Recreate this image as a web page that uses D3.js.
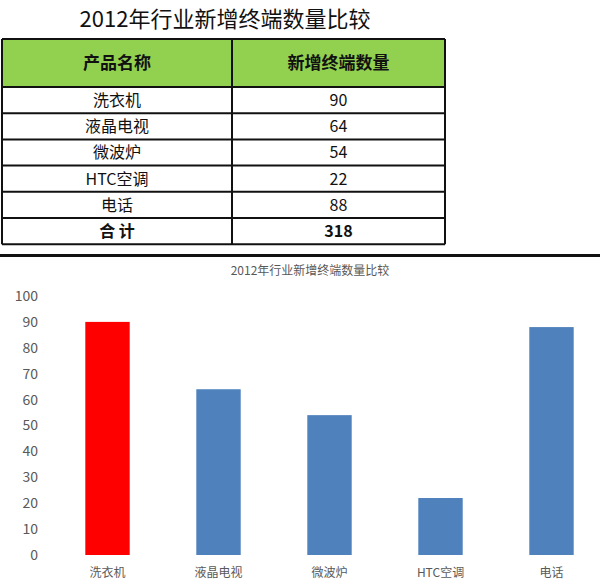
<!DOCTYPE html>
<html>
<head>
<meta charset="utf-8">
<script src="https://cdn.jsdelivr.net/npm/d3@7"></script>
<style>
  body { margin: 0; background: #fff; font-family: "Noto Sans CJK SC", "Noto Sans", sans-serif; }
</style>
</head>
<body>
<svg id="chart" width="600" height="585"></svg>
<script>
// data
let title = '2012年行业新增终端数量比较';
let headers = ['产品名称', '新增终端数量'];
let products = ['洗衣机', '液晶电视', '微波炉', 'HTC空调', '电话'];
let counts = [90, 64, 54, 22, 88];
let totalLabel = '合 计';
let yTicks = [0, 10, 20, 30, 40, 50, 60, 70, 80, 90, 100];

let svg = d3.select('#chart');
let font = '"Noto Sans CJK SC", "Noto Sans", sans-serif';

// page title
svg.append('text')
  .attr('x', 225).attr('y', 27)
  .attr('text-anchor', 'middle')
  .attr('font-family', font)
  .attr('font-size', 22)
  .attr('fill', '#111')
  .text(title);

// table
let tLeft = 2, tRight = 445, tMid = 232;
let headTop = 39, headBottom = 87, rowH = 26.2;
let rows = products.map((p, i) => [p, counts[i]]);
rows.push([totalLabel, d3.sum(counts)]);

let table = svg.append('g');
table.append('rect')
  .attr('x', tLeft).attr('y', headTop)
  .attr('width', tRight - tLeft).attr('height', headBottom - headTop)
  .attr('fill', '#92d050');

let colCenters = [(tLeft + tMid) / 2, (tMid + tRight) / 2];
table.selectAll('text.head')
  .data(headers)
  .join('text')
  .attr('class', 'head')
  .attr('x', (d, i) => colCenters[i])
  .attr('y', (headTop + headBottom) / 2 + 6)
  .attr('text-anchor', 'middle')
  .attr('font-family', font)
  .attr('font-weight', 'bold')
  .attr('font-size', 17)
  .attr('fill', '#111')
  .text(d => d);

let rowG = table.selectAll('g.row')
  .data(rows)
  .join('g')
  .attr('transform', (d, i) => `translate(0,${headBottom + i * rowH})`);

rowG.selectAll('text')
  .data((d, i) => d.map(v => ({ v, last: i === rows.length - 1 })))
  .join('text')
  .attr('x', (d, i) => colCenters[i])
  .attr('y', rowH / 2 + 6)
  .attr('text-anchor', 'middle')
  .attr('font-family', font)
  .attr('font-size', 16)
  .attr('font-weight', d => d.last ? 'bold' : 'normal')
  .attr('fill', '#111')
  .text(d => d.v);

// grid lines of table
let lineYs = d3.range(rows.length + 1).map(i => headBottom + i * rowH);
lineYs.unshift(headTop);
table.selectAll('line.h')
  .data(lineYs)
  .join('line')
  .attr('x1', tLeft).attr('x2', tRight)
  .attr('y1', d => d).attr('y2', d => d)
  .attr('stroke', '#111').attr('stroke-width', 2);
table.selectAll('line.v')
  .data([tLeft, tMid, tRight])
  .join('line')
  .attr('class', 'v')
  .attr('x1', d => d).attr('x2', d => d)
  .attr('y1', headTop).attr('y2', lineYs[lineYs.length - 1])
  .attr('stroke', '#111').attr('stroke-width', 2);

// separator
svg.append('rect')
  .attr('x', 0).attr('y', 254)
  .attr('width', 600).attr('height', 3)
  .attr('fill', '#111');

// bar chart
let x = d3.scaleBand()
  .domain(products)
  .range([52, 607])
  .paddingInner(0.6)
  .paddingOuter(0.3);
let y = d3.scaleLinear()
  .domain([0, 100])
  .range([555, 296]);

svg.append('text')
  .attr('x', 310).attr('y', 275)
  .attr('text-anchor', 'middle')
  .attr('font-family', font)
  .attr('font-size', 12)
  .attr('fill', '#595959')
  .text(title);

svg.append('g')
  .selectAll('rect')
  .data(products)
  .join('rect')
  .attr('x', d => x(d))
  .attr('y', (d, i) => y(counts[i]))
  .attr('width', x.bandwidth())
  .attr('height', (d, i) => y(0) - y(counts[i]))
  .attr('fill', (d, i) => i === 0 ? '#ff0000' : '#4f81bd');

let gy = svg.append('g')
  .attr('transform', 'translate(40,0)')
  .call(d3.axisLeft(y).tickValues(yTicks).tickSize(0).tickPadding(2));
gy.select('.domain').remove();
gy.selectAll('text')
  .attr('font-family', font)
  .attr('font-size', 14)
  .attr('fill', '#595959');

let gx = svg.append('g')
  .attr('transform', 'translate(0,555)')
  .call(d3.axisBottom(x).tickSize(0).tickPadding(13));
gx.select('.domain').remove();
gx.selectAll('text')
  .attr('font-family', font)
  .attr('font-size', 12)
  .attr('fill', '#595959');
</script>
</body>
</html>
